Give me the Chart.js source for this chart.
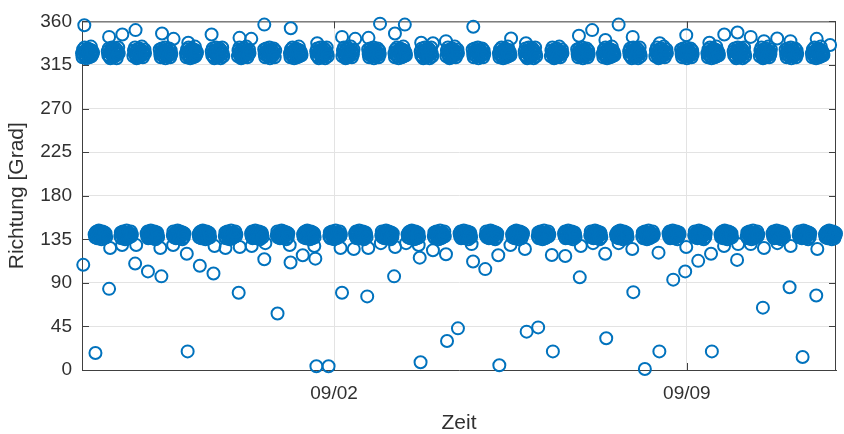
<!DOCTYPE html>
<html><head><meta charset="utf-8">
<script src="https://cdn.jsdelivr.net/npm/chart.js@4.4.1/dist/chart.umd.min.js"></script>
<style>html,body{margin:0;padding:0;background:#fff}canvas{display:block}</style>
</head><body>
<canvas id="c" width="844" height="434"></canvas>
<script>
// Time axis: hours since 08/28 00:00. Band samples every 15 min, one line per tidal phase
// (null = slack-water sample; those readings are in the outlier arrays)
const sampleStepHours = 0.25;
const bandDirections = [
327,323,331,325,329,333,324,328,322,330,326,332,325,329,323,331,327,334,324,330,326,328,null,
null,140,137,142,139,143,136,141,138,144,140,137,142,139,135,141,143,138,140,136,142,139,141,137,null,
null,329,325,332,324,328,322,330,326,333,327,323,331,325,329,324,332,328,322,330,326,333,327,null,
null,138,142,136,141,139,143,137,140,142,135,139,141,144,138,136,140,142,137,141,139,143,138,140,null,
null,324,330,327,333,325,329,322,331,326,328,323,332,327,324,330,325,334,328,323,329,326,331,327,null,
null,141,138,143,136,140,142,137,139,144,138,141,136,142,140,137,143,139,135,141,138,142,140,137,null,
null,331,326,323,329,332,325,328,324,330,327,333,322,328,326,331,324,329,325,332,327,323,330,326,null,
null,139,143,137,140,142,138,136,141,139,144,137,142,140,136,143,138,141,139,135,142,140,137,141,null,
null,327,323,331,325,329,333,324,328,322,330,326,332,325,329,323,331,327,334,324,330,326,328,null,
null,140,137,142,139,143,136,141,138,144,140,137,142,139,135,141,143,138,140,136,142,139,141,137,null,
null,329,325,332,324,328,322,330,326,333,327,323,331,325,329,324,332,328,322,330,326,333,327,324,null,
null,138,142,136,141,139,143,137,140,142,135,139,141,144,138,136,140,142,137,141,139,143,138,140,null,
null,324,330,327,333,325,329,322,331,326,328,323,332,327,324,330,325,334,328,323,329,326,331,327,null,
null,141,138,143,136,140,142,137,139,144,138,141,136,142,140,137,143,139,135,141,138,142,140,137,null,
null,331,326,323,329,332,325,328,324,330,327,333,322,328,326,331,324,329,325,332,327,323,330,null,
null,139,143,137,140,142,138,136,141,139,144,137,142,140,136,143,138,141,139,135,142,140,137,141,null,
null,327,323,331,325,329,333,324,328,322,330,326,332,325,329,323,331,327,334,324,330,326,328,325,null,
null,140,137,142,139,143,136,141,138,144,140,137,142,139,135,141,143,138,140,136,142,139,141,137,null,
null,329,325,332,324,328,322,330,326,333,327,323,331,325,329,324,332,328,322,330,326,333,327,324,null,
null,138,142,136,141,139,143,137,140,142,135,139,141,144,138,136,140,142,137,141,139,143,138,140,null,
null,324,330,327,333,325,329,322,331,326,328,323,332,327,324,330,325,334,328,323,329,326,331,null,
null,141,138,143,136,140,142,137,139,144,138,141,136,142,140,137,143,139,135,141,138,142,140,137,null,
null,331,326,323,329,332,325,328,324,330,327,333,322,328,326,331,324,329,325,332,327,323,330,326,null,
null,139,143,137,140,142,138,136,141,139,144,137,142,140,136,143,138,141,139,135,142,140,137,141,null,
null,327,323,331,325,329,333,324,328,322,330,326,332,325,329,323,331,327,334,324,330,326,328,325,null,
null,140,137,142,139,143,136,141,138,144,140,137,142,139,135,141,143,138,140,136,142,139,141,137,null,
null,329,325,332,324,328,322,330,326,333,327,323,331,325,329,324,332,328,322,330,326,333,327,324,null,
null,138,142,136,141,139,143,137,140,142,135,139,141,144,138,136,140,142,137,141,139,143,138,null,
null,324,330,327,333,325,329,322,331,326,328,323,332,327,324,330,325,334,328,323,329,326,331,327,null,
null,141,138,143,136,140,142,137,139,144,138,141,136,142,140,137,143,139,135,141,138,142,140,137,null,
null,331,326,323,329,332,325,328,324,330,327,333,322,328,326,331,324,329,325,332,327,323,330,326,null,
null,139,143,137,140,142,138,136,141,139,144,137,142,140,136,143,138,141,139,135,142,140,137,141,null,
null,327,323,331,325,329,333,324,328,322,330,326,332,325,329,323,331,327,334,324,330,326,328,325,null,
null,140,137,142,139,143,136,141,138,144,140,137,142,139,135,141,143,138,140,136,142,139,141,null,
null,329,325,332,324,328,322,330,326,333,327,323,331,325,329,324,332,328,322,330,326,333,327,324,null,
null,138,142,136,141,139,143,137,140,142,135,139,141,144,138,136,140,142,137,141,139,143,138,140,null,
null,324,330,327,333,325,329,322,331,326,328,323,332,327,324,330,325,334,328,323,329,326,331,327,null,
null,141,138,143,136,140,142,137,139,144,138,141,136,142,140,137,143,139,135,141,138,142,140,137,null,
null,331,326,323,329,332,325,328,324,330,327,333,322,328,326,331,324,329,325,332,327,323,330,326,null,
null,139,143,137,140,142,138,136,141,139,144,137,142,140,136,143,138,141,139,135,142,140,137,null,
null,327,323,331,325,329,333,324,328,322,330,326,332,325,329,323,331,327,334,324,330,326,328,325,null,
null,140,137,142,139,143,136,141,138,144,140,137,142,139,135,141,143,138,140,136,142,139,141,137,null,
null,329,325,332,324,328,322,330,326,333,327,323,331,325,329,324,332,328,322,330,326,333,327,324,null,
null,138,142,136,141,139,143,137,140,142,135,139,141,144,138,136,140,142,137,141,139,143,138,140,null,
null,324,330,327,333,325,329,322,331,326,328,323,332,327,324,330,325,334,328,323,329,326,331,327,null,
null,141,138,143,136,140,142,137,139,144,138,141,136,142,140,137,143,139,135,141,138,142,140,null,
null,331,326,323,329,332,325,328,324,330,327,333,322,328,326,331,324,329,325,332,327,323,330,326,null,
null,139,143,137,140,142,138,136,141,139,144,137,142,140,136,143,138,141,139,135,142,140,137,141,null,
null,327,323,331,325,329,333,324,328,322,330,326,332,325,329,323,331,327,334,324,330,326,328,325,null,
null,140,137,142,139,143,136,141,138,144,140,137,142,139,135,141,143,138,140,136,142,139,141,137,null,
null,329,325,332,324,328,322,330,326,333,327,323,331,325,329,324,332,328,322,330,326,333,327,324,null,
null,138,142,136,141,139,143,137,140,142,135,139,141,144,138,136,140,142,137,141,139,143,138,140,null,
null,324,330,327,333,325,329,322,331,326,328,323,332,327,324,330,325,334,328,323,329,326,331,null,
null,141,138,143,136,140,142,137,139,144,138,141,136,142,140,137,143,139,135,141,138,142,140,137,null,
null,331,326,323,329,332,325,328,324,330,327,333,322,328,326,331,324,329,325,332,327,323,330,326,null,
null,139,143,137,140,142,138,136,141,139,144,137,142,140,136,143,138,141,139,135,142,140,137,141,null,
null,327,323,331,325,329,333,324,328,322,330,326,332,325,329,323,331,327,334,324,330,326,328,325,null,
null,140,137,142,139,143,136,141,138,144,140,137,142,139,135,141,143,138,140,136,142,139,141,137,null
];
const upperOutlierHours = [1.1,12.9,19.2,25.5,38.1,43.6,50.6,61.7,75.0,80.6,86.8,99.4,112.0,123.8,130.1,136.4,141.9,149.0,153.7,161.5,167.1,173.3,186.3,204.3,211.4,236.6,242.9,249.2,255.5,262.2,275.1,287.7,298.7,305.8,312.1,318.4,324.7,331.0,337.3,349.8,356.2];
const upperOutlierDirs  = [356,344,346.5,351,347.5,342,338,346.5,343,342,356.7,353,337.5,344,342,343,357.7,347.5,356.7,338,337.5,339.6,354.4,342.4,337.5,345.2,351,340.8,356.7,344,337.5,345.8,338,346.5,348.5,344,339.6,342.4,339.6,342,335.7];
const lowerOutlierHours = [0.6,6.4,12.9,13.4,25.3,31.4,37.8,49.9,50.3,56.1,62.6,74.6,86.8,93.1,99.3,105.1,111.1,111.6,117.4,123.8,135.8,148.6,160.8,161.2,167.1,173.3,173.8,179.0,186.2,192.0,198.2,198.7,211.7,217.2,223.7,224.2,230.1,237.0,249.1,249.6,262.5,268.0,274.5,274.9,281.5,287.2,293.4,299.5,299.9,311.9,324.2,336.9,343.1,349.6,
 19.1,25.8,37.3,43.4,63.1,68.3,75.1,80.8,87.3,98.9,110.6,123.1,129.4,136.3,142.3,149.1,154.3,160.3,185.5,204.0,210.9,237.5,243.3,255.5,262.0,287.7,305.7,312.4,318.4,324.7,331.1,337.4,350.1];
const lowerOutlierDirs  = [108.6,17.5,83.8,126,109.9,101.8,96.7,120,19.2,107.6,99.7,79.7,114.4,58.3,111,118.5,115,3.9,3.9,79.7,76,96.7,116,8,123.6,119.5,30,43,112,104.2,118.5,4.9,39.6,44,118.8,19.2,117.8,95.7,120,32.8,80.4,1,121.2,19.2,93.3,101.8,112.7,120,19.2,113.7,64.4,85.5,13.5,77,
 129,129,126,129,128,126,127,128,131,129,128,126,125,126,131,127,131,129,130,129,125,128,131,131,125,127,128,130,130,126,131,128,125];
const xTickHours = [120, 288];
const xTickLabels = ['09/02', '09/09'];
const yTicks = [0, 45, 90, 135, 180, 225, 270, 315, 360];
const xMaxHours = 359;

const FONT = "'Liberation Sans', Arial, Helvetica, sans-serif";
const TXT = '#303030';
const AX = '#404040';
const BLUE = '#0072BD';

const bandPoints = bandDirections.map((d, i) => ({x: i * sampleStepHours, y: d})).filter(p => p.y !== null);
const upperPoints = upperOutlierHours.map((h, i) => ({x: h, y: upperOutlierDirs[i]}));
const lowerPoints = lowerOutlierHours.map((h, i) => ({x: h, y: lowerOutlierDirs[i]}));

const boxPlugin = {
  id: 'box',
  beforeDatasetsDraw(chart) {
    const {ctx, chartArea: a, scales: {x, y}} = chart;
    ctx.save();
    ctx.strokeStyle = AX; ctx.lineWidth = 1;
    ctx.beginPath();
    ctx.moveTo(a.left, a.top + 0.5); ctx.lineTo(a.right, a.top + 0.5);
    ctx.moveTo(a.right - 0.5, a.top); ctx.lineTo(a.right - 0.5, a.bottom);
    y.ticks.forEach(t => {
      const py = Math.round(y.getPixelForValue(t.value)) + 0.5;
      ctx.moveTo(a.left, py); ctx.lineTo(a.left + 7, py);
      ctx.moveTo(a.right, py); ctx.lineTo(a.right - 7, py);
    });
    x.ticks.forEach(t => {
      const px = Math.round(x.getPixelForValue(t.value)) + 0.5;
      ctx.moveTo(px, a.bottom); ctx.lineTo(px, a.bottom - 7);
      ctx.moveTo(px, a.top); ctx.lineTo(px, a.top + 7);
    });
    ctx.stroke();
    ctx.restore();
  }
};

const ds = (data) => ({
  data, showLine: false, clip: false,
  pointStyle: 'circle', pointRadius: 6, pointHoverRadius: 6,
  pointBorderWidth: 2, borderColor: BLUE, backgroundColor: 'rgba(0,0,0,0)'
});

new Chart(document.getElementById('c'), {
  type: 'scatter',
  data: { datasets: [ds(bandPoints), ds(upperPoints), ds(lowerPoints)] },
  options: {
    responsive: false, animation: false,
    layout: { padding: { top: 17, right: 1, left: 0, bottom: 0 } },
    plugins: { legend: { display: false }, tooltip: { enabled: false } },
    scales: {
      x: {
        type: 'linear', min: 0, max: xMaxHours,
        afterBuildTicks: s => { s.ticks = xTickHours.map(v => ({value: v})); },
        afterFit: s => { s.height = 64; },
        grid: { color: '#e3e3e3', drawTicks: false },
        border: { display: true, color: AX, width: 1 },
        ticks: { autoSkip: false, maxRotation: 0, padding: 12, color: TXT,
                 font: { family: FONT, size: 19 },
                 callback: (v, i) => xTickLabels[i] },
        title: { display: true, text: 'Zeit', color: TXT, padding: 0,
                 font: { family: FONT, size: 21, lineHeight: 1 } }
      },
      y: {
        type: 'linear', min: 0, max: 360,
        afterBuildTicks: s => { s.ticks = yTicks.map(v => ({value: v})); },
        afterFit: s => { s.width = 82; },
        grid: { color: '#e3e3e3', drawTicks: false },
        border: { display: true, color: AX, width: 1 },
        ticks: { padding: 10, color: TXT, font: { family: FONT, size: 19 } },
        title: { display: true, text: 'Richtung [Grad]', color: TXT,
                 padding: { top: 5, bottom: 0 },
                 font: { family: FONT, size: 21 } }
      }
    }
  },
  plugins: [boxPlugin]
});
</script>
</body></html>
